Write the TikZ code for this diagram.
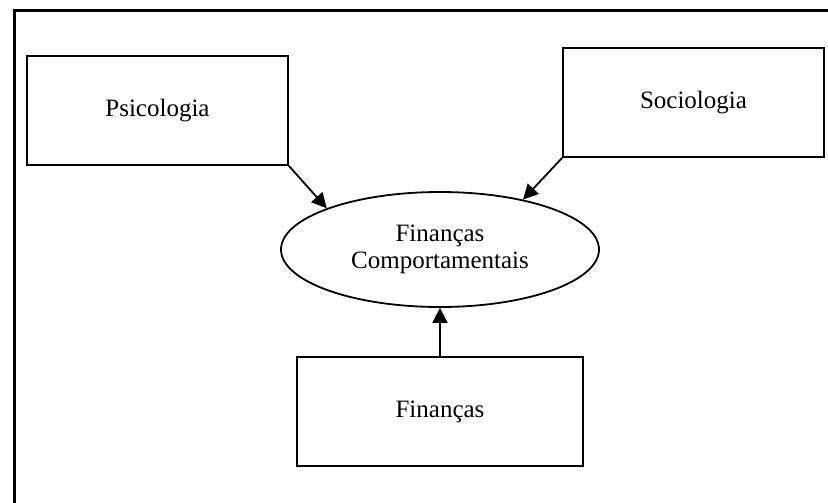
\documentclass[tikz,border=0pt]{standalone}
\usepackage{fontspec}
\setmainfont{Liberation Serif}
\usetikzlibrary{shapes.geometric,arrows.meta}
\begin{document}
\begin{tikzpicture}[x=1pt,y=-1pt,
  box/.style={draw,line width=1.8pt,rectangle,inner sep=0pt,font=\fontsize{25}{29}\selectfont},
  oval/.style={draw,line width=1.8pt,ellipse,inner sep=0pt,minimum width=318pt,minimum height=115pt,
    align=center,font=\fontsize{25}{27}\selectfont},
  arr/.style={line width=1.8pt,-{Triangle[length=15pt,width=15pt]}}]
  \useasboundingbox (0,0) rectangle (828,503);
  % outer frame (only top and left edges fall inside the page)
  \draw[line width=3pt] (14,503) -- (14,11) -- (828,11);
  % boxes
  \node[box,minimum width=261pt,minimum height=109pt] (psi) at (157.5,110.5) {Psicologia};
  \node[box,minimum width=261pt,minimum height=109pt] (soc) at (693.5,102.5) {Sociologia};
  \node[box,minimum width=286pt,minimum height=109pt] (fin) at (440,411.5) {Finanças};
  \node[oval] (fc) at (440,249.5) {Finanças\\Comportamentais};
  % connectors
  \draw[arr] (psi.south east) -- (fc.160);
  \draw[arr] (soc.south west) -- (fc.31);
  \draw[arr] (fin.north) -- (fc.south);
\end{tikzpicture}
\end{document}
